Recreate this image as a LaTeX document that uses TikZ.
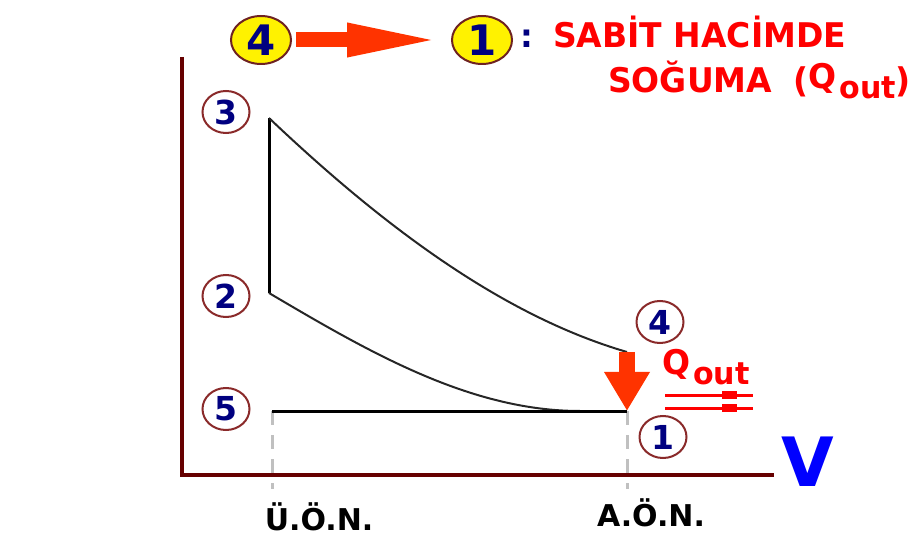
\documentclass[tikz,border=0pt]{standalone}
\usepackage{fontspec}
\setmainfont{DejaVu Sans}
\usetikzlibrary{arrows.meta,shapes.geometric}
\definecolor{axisred}{HTML}{660000}
\definecolor{ringred}{HTML}{8A2A2A}
\definecolor{digitblue}{HTML}{000080}
\definecolor{heatred}{HTML}{FF3300}
\definecolor{textred}{HTML}{FF0000}
\definecolor{dashgray}{HTML}{C0C0C0}
\newcommand{\bigfont}[1]{\fontsize{#1}{#1}\selectfont\bfseries}
\newcommand{\narrow}[1]{\scalebox{0.97}[1]{#1}}
\newcommand{\qout}{\raisebox{4pt}{Q}\hspace{3pt}\raisebox{-6pt}{\bigfont{31}out}}
\tikzset{
  statecirc/.style={ellipse, draw=ringred, line width=2pt, fill=white,
    minimum width=47pt, minimum height=42pt, inner sep=0pt,
    text=digitblue, font=\bigfont{33}},
  topcirc/.style={statecirc, fill=yellow, draw=ringred!80!black,
    minimum width=60pt, minimum height=48pt, font=\bigfont{42}},
  redtext/.style={text=textred, inner sep=0pt, font=\bigfont{34}},
  axtext/.style={text=black, inner sep=0pt, font=\bigfont{30}, anchor=base},
}

\begin{document}
\begin{tikzpicture}[x=1pt,y=-1pt]
  \useasboundingbox (0,0) rectangle (924,537);
  % axes
  \draw[axisred, line width=4.5pt] (182,57) -- (182,475) -- (774,475);
  \node[text=blue, inner sep=0pt, font=\bigfont{68}, anchor=base] (vlabel) at (808,486) {V};
  % state points
  \coordinate (p3) at (269,118);
  \coordinate (p2) at (269,293);
  \coordinate (p5) at (272,411);
  \coordinate (p1) at (627,411);
  \coordinate (p4) at (627,352);
  \coordinate (t2) at (580,411);
  % dead centres
  \foreach \c in {p5,p1}
    \draw[dashgray, line width=3pt, dash pattern=on 14pt off 10pt] (\c) -- ++(0,78);
  \node[axtext] (uon) at (319,530) {Ü.Ö.N.};
  \node[axtext] (aon) at (651,526) {A.Ö.N.};
  % cycle
  \draw[line width=3pt] (p2) -- (p3);
  \draw[line width=2pt, black!85] (p3) .. controls (389,232) and (507,317) .. (p4);
  \draw[line width=2pt, black!85] (p2) .. controls (369,352) and (470,411) .. (t2);
  \draw[line width=3pt] (p5) -- (p1);
  % heat rejected
  \draw[heatred, line width=16pt, -{Triangle[width=43pt,length=39pt]}] (p4) -- (p1);
  \node[redtext, anchor=base west] (qout) at (662,378) {\narrow{\qout}};
  \foreach \y in {395,408} {
    \draw[textred, line width=3pt] (665,\y) -- (753,\y);
    \fill[textred] (722,\y-4) rectangle (737,\y+4);
  }
  % numbered states
  \node[statecirc] (n3) at (226,112) {3};
  \node[statecirc] (n2) at (226,296) {2};
  \node[statecirc] (n5) at (226,409) {5};
  \node[statecirc] (n4) at (660,322) {4};
  \node[statecirc] (n1) at (663,437) {1};
  % title
  \node[topcirc] (top4) at (261,40) {4};
  \node[topcirc] (top1) at (482,40) {1};
  \draw[heatred, line width=15pt, shorten <=4pt, shorten >=8pt,
    -{Triangle[width=30pt,length=96pt]}] (top4) -- (top1);
  \node[text=digitblue, inner sep=0pt, font=\bigfont{32}, anchor=base] (colon) at (527,48) {:};
  \node[redtext, anchor=base west] (title1) at (553,48) {\narrow{SABİT HACİMDE}};
  \node[redtext, anchor=base west] (title2) at (608,93) {\narrow{SOĞUMA \hspace{10pt}(\qout)}};
\end{tikzpicture}
\end{document}
